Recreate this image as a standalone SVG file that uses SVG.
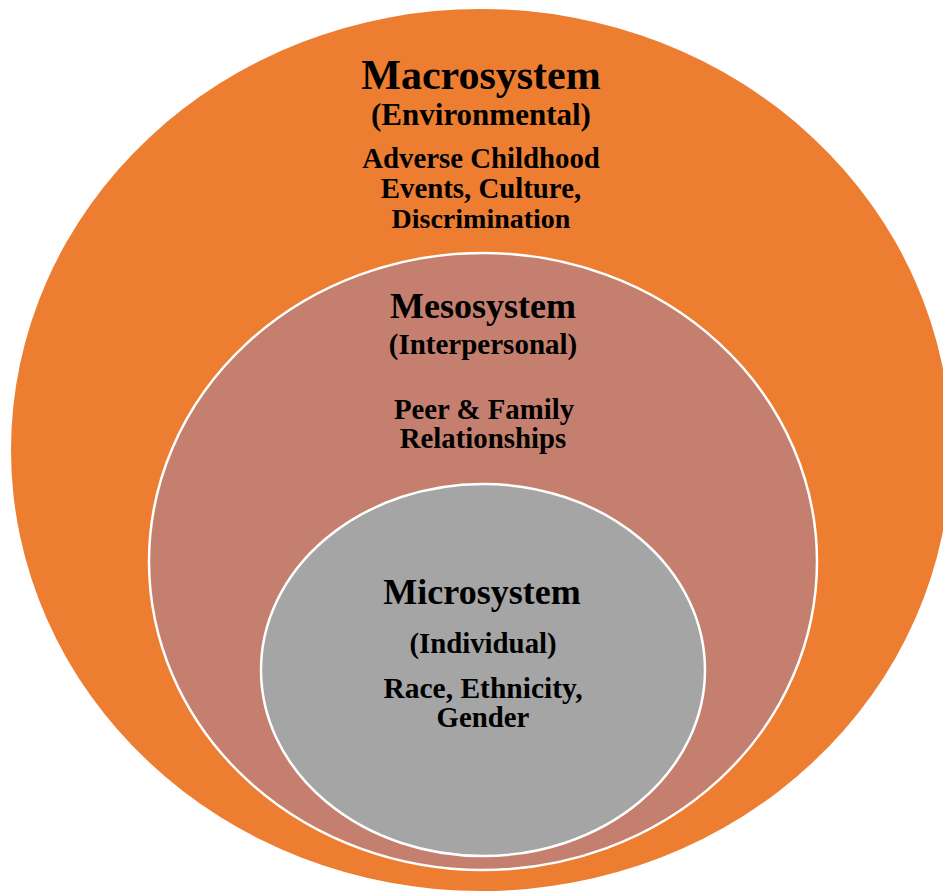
<svg xmlns="http://www.w3.org/2000/svg" width="943" height="893" viewBox="0 0 943 893">
  <style>
    text { font-family: "Liberation Serif", "Times New Roman", serif; font-weight: bold; fill: #000; text-anchor: middle; }
    .ring { stroke: #ffffff; stroke-width: 2.5; }
    .t1 { font-size: 42px; }
    .t2 { font-size: 36px; }
    .sub { font-size: 29px; }
    .body { font-size: 28.8px; }
  </style>
  <rect width="943" height="893" fill="#ffffff"/>
  <g id="macrosystem">
    <ellipse cx="481" cy="450" rx="470" ry="441" fill="#ED7D31"/>
    <text class="t1" x="481" y="89">Macrosystem</text>
    <text class="sub" x="481" y="125" style="font-size:31px">(Environmental)</text>
    <text class="body" x="481" y="168">Adverse Childhood</text>
    <text class="body" x="481" y="198">Events, Culture,</text>
    <text class="body" x="481" y="228" style="font-size:28px">Discrimination</text>
  </g>
  <g id="mesosystem">
    <ellipse class="ring" cx="483" cy="561.5" rx="334" ry="308.5" fill="#C47F6E"/>
    <text class="t2" x="483" y="318">Mesosystem</text>
    <text class="sub" x="483" y="354">(Interpersonal)</text>
    <text class="body" x="484" y="419">Peer &amp; Family</text>
    <text class="body" x="483" y="448">Relationships</text>
  </g>
  <g id="microsystem">
    <ellipse class="ring" cx="483" cy="670" rx="222" ry="186" fill="#A5A5A5"/>
    <text class="t2" x="482" y="604">Microsystem</text>
    <text class="body" x="483" y="653">(Individual)</text>
    <text class="body" x="483" y="698" style="font-size:29.5px">Race, Ethnicity,</text>
    <text class="body" x="483" y="727">Gender</text>
  </g>
  <g id="connectors"></g>
</svg>
